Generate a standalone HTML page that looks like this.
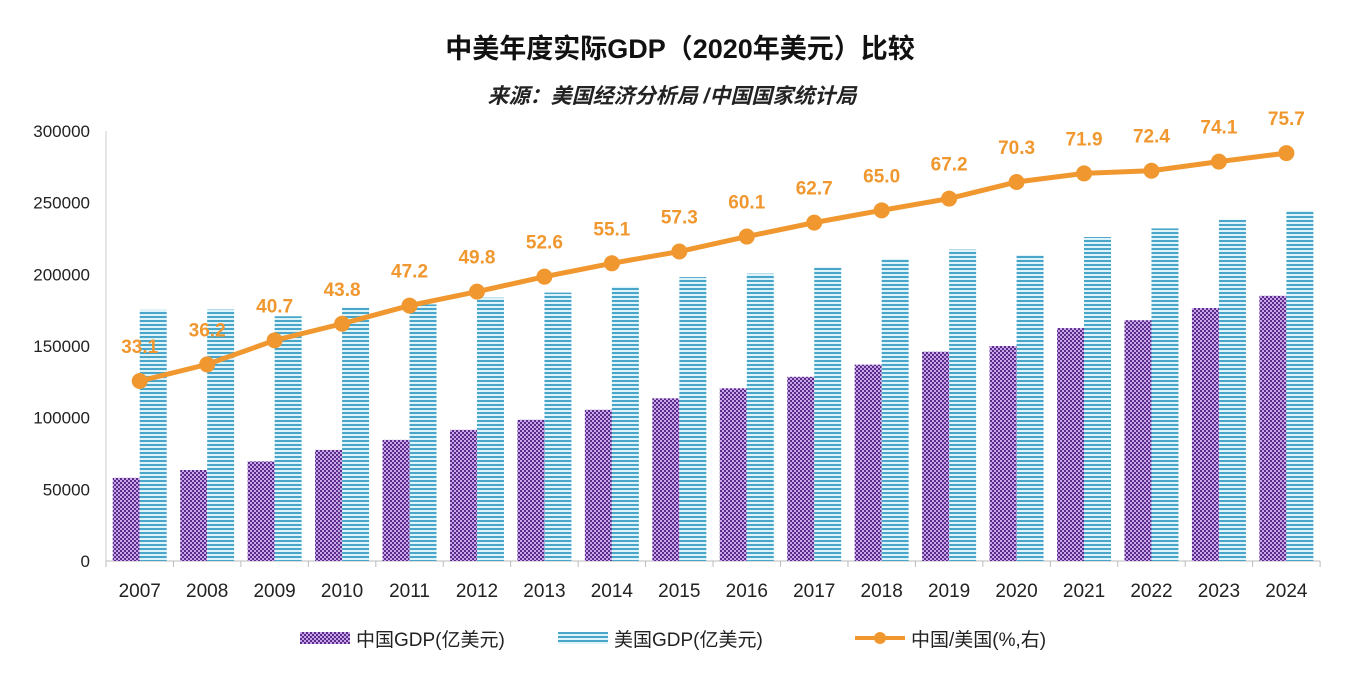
<!DOCTYPE html>
<html><head><meta charset="utf-8"><style>
body{margin:0;background:#fff;}
svg{display:block;font-family:"Liberation Sans","Noto Sans CJK SC",sans-serif;}
</style></head><body>
<svg width="1360" height="680" viewBox="0 0 1360 680" xmlns="http://www.w3.org/2000/svg">
<defs>
<pattern id="pc" width="4" height="4" patternUnits="userSpaceOnUse">
<rect width="4" height="4" fill="#5a2d8a"/>
<rect x="0" y="0" width="2" height="2" fill="#c9a6ea"/>
<rect x="2" y="2" width="2" height="2" fill="#c9a6ea"/>
</pattern>
<pattern id="pu" width="4" height="4" patternUnits="userSpaceOnUse">
<rect width="4" height="4" fill="#dff3fa"/>
<rect x="0" y="0" width="4" height="2" fill="#4aa6c8"/>
</pattern>
</defs>
<text x="680" y="58" text-anchor="middle" font-size="27" font-weight="bold" fill="#111">中美年度实际GDP（2020年美元）比较</text>
<text x="672" y="103" text-anchor="middle" font-size="21" font-style="italic" font-weight="bold" fill="#222">来源：美国经济分析局 /中国国家统计局</text>
<g id="grid"></g>
<line x1="106" y1="131" x2="106" y2="561" stroke="#ccc"/>
<line x1="106" y1="561" x2="1320" y2="561" stroke="#bbb"/>
<g font-size="17" fill="#222" text-anchor="end" id="yl"></g>
<g id="bars"></g>
<g id="line"></g>
<g font-size="19" fill="#222" text-anchor="middle" id="xl"></g>
<g font-size="19" fill="#222">
<rect x="300" y="632" width="50" height="12" fill="url(#pc)"/>
<text x="356" y="646">中国GDP(亿美元)</text>
<rect x="558" y="632" width="50" height="12" fill="url(#pu)"/>
<text x="614" y="646">美国GDP(亿美元)</text>
<line x1="855" y1="638" x2="905" y2="638" stroke="#f0982f" stroke-width="4"/>
<circle cx="880" cy="638" r="6" fill="#f0982f"/>
<text x="911" y="646">中国/美国(%,右)</text>
</g>
</svg>
<script>
const cn=[58000,63500,69500,77500,84500,91500,98500,105500,113500,120500,128500,137000,146000,150000,162500,168000,176500,185000];
const r=[33.1,36.2,40.7,43.8,47.2,49.8,52.6,55.1,57.3,60.1,62.7,65.0,67.2,70.3,71.9,72.4,74.1,75.7];
const ns="http://www.w3.org/2000/svg";
function el(t,a,p,txt){const e=document.createElementNS(ns,t);for(const k in a)e.setAttribute(k,a[k]);if(txt)e.textContent=txt;document.getElementById(p).appendChild(e);return e;}
const Y=v=>561-v*430/300000, step=67.45, x0=106;
for(let i=0;i<=6;i++){el('text',{x:90,y:561-i*71.67+6},'yl',String(i*50000));}
for(let i=0;i<=18;i++){el('line',{x1:x0+i*step,y1:561,x2:x0+i*step,y2:567,stroke:'#bbb'},'grid');}
let pts=[];
for(let i=0;i<18;i++){
 const us=cn[i]/r[i]*100, cx=x0+i*step+step/2;
 el('rect',{x:cx-27,y:Y(cn[i]),width:27,height:561-Y(cn[i]),fill:'url(#pc)'},'bars');
 el('rect',{x:cx,y:Y(us),width:27,height:561-Y(us),fill:'url(#pu)'},'bars');
 el('text',{x:cx,y:597},'xl',String(2007+i));
 const ly=381-(r[i]-33.1)*5.35; pts.push(cx+','+ly);
}
el('polyline',{points:pts.join(' '),fill:'none',stroke:'#f0982f','stroke-width':5},'line');
pts.forEach((p,i)=>{const [x,y]=p.split(',');el('circle',{cx:x,cy:y,r:8,fill:'#f0982f'},'line');
 el('text',{x:x,y:y-28,'text-anchor':'middle','font-size':19,'font-weight':'bold',fill:'#f0982f'},'line',r[i].toFixed(1));});
</script>
</body></html>
